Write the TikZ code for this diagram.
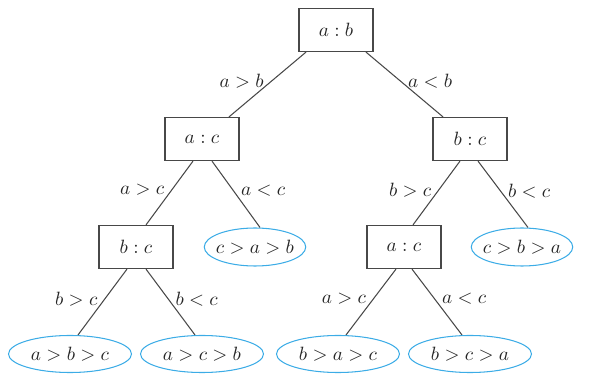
\documentclass[tikz,border=0pt]{standalone}
\usepackage{amsmath}
\usepackage{tikz}
\usetikzlibrary{positioning, shapes.geometric}
\definecolor{leafblue}{RGB}{60,172,230}
\definecolor{inkgray}{RGB}{72,72,72}
\tikzset{
  cmp/.style={draw=inkgray, line width=0.7pt, rectangle, minimum width=1.48cm, minimum height=0.86cm, inner sep=0pt, on grid},
  leaf/.style={draw=leafblue, line width=0.6pt, ellipse, minimum width=1.96cm, minimum height=0.76cm, inner ysep=0pt, inner xsep=-1.8pt, on grid},
  wideleaf/.style={leaf, minimum width=2.46cm, minimum height=0.74cm},
  branch/.style={draw=inkgray, line width=0.6pt},
  lbl/.style={pos=0.45, inner sep=4pt},
}

\begin{document}
\begin{tikzpicture}[text=black!85, font=\fontsize{10.5}{12.5}\selectfont]
  \useasboundingbox (0,0) rectangle (11.88,-7.48);

  \node [cmp] (n11) at (6.72,-0.60) {$a:b$};
  \node [cmp, below left=2.18cm and 2.68cm of n11] (n21) {$a:c$};
  \node [cmp, below right=2.18cm and 2.68cm of n11] (n22) {$b:c$};

  \node [cmp, below left=2.16cm and 1.32cm of n21] (n31) {$b:c$};
  \node [leaf, below right=2.16cm and 1.06cm of n21] (f1) {$c>a>b$};
  \node [cmp, below left=2.16cm and 1.32cm of n22] (n32) {$a:c$};
  \node [leaf, below right=2.16cm and 1.04cm of n22] (f2) {$c>b>a$};

  %LEAVES
  \node [wideleaf, below left=2.14cm and 1.32cm of n31] (f3) {$a>b>c$};
  \node [wideleaf, below right=2.14cm and 1.32cm of n31] (f4) {$a>c>b$};
  \node [wideleaf, below left=2.14cm and 1.32cm of n32] (f5) {$b>a>c$};
  \node [wideleaf, below right=2.14cm and 1.32cm of n32] (f6) {$b>c>a$};

  \draw [branch] ([xshift=-0.6cm]n11.south) -- node [lbl, left] {$a>b$} ([xshift=0.54cm]n21.north);
  \draw [branch] ([xshift=0.6cm]n11.south) -- node [lbl, right] {$a<b$} ([xshift=-0.54cm]n22.north);

  \draw [branch] ([xshift=-0.18cm]n21.south) -- node [lbl, left] {$a>c$} ([xshift=0.2cm]n31.north);
  \draw [branch] ([xshift=0.2cm]n21.south) -- node [lbl, right] {$a<c$} ([xshift=0.1cm]f1.north);
  \draw [branch] ([xshift=-0.2cm]n22.south) -- node [lbl, left] {$b>c$} ([xshift=0.18cm]n32.north);
  \draw [branch] ([xshift=0.16cm]n22.south) -- node [lbl, right] {$b<c$} ([xshift=0.12cm]f2.north);

  \draw [branch] ([xshift=-0.18cm]n31.south) -- node [lbl, left] {$b>c$} ([xshift=0.16cm]f3.north);
  \draw [branch] ([xshift=0.2cm]n31.south) -- node [lbl, right] {$b<c$} ([xshift=-0.14cm]f4.north);
  \draw [branch] ([xshift=-0.16cm]n32.south) -- node [lbl, left] {$a>c$} ([xshift=0.16cm]f5.north);
  \draw [branch] ([xshift=0.16cm]n32.south) -- node [lbl, right] {$a<c$} ([xshift=-0.16cm]f6.north);
\end{tikzpicture}
\end{document}
